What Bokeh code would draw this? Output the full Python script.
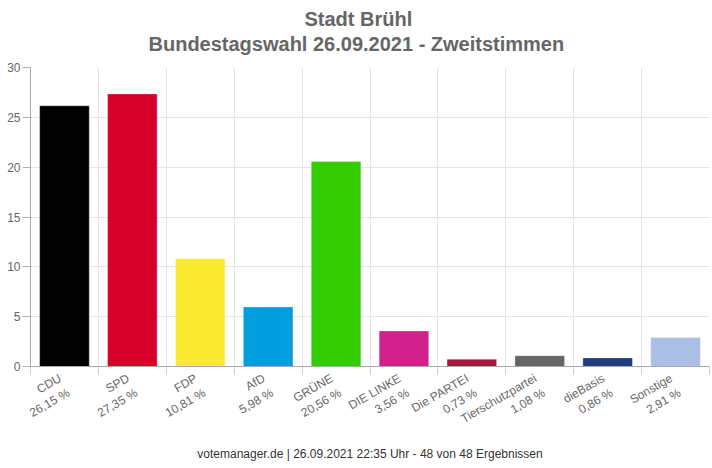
import math
import numpy as np
from bokeh.plotting import figure
from bokeh.models import ColumnDataSource, Range1d, FixedTicker, Title
from bokeh.embed import file_html
from bokeh.resources import INLINE

# ---- data ----
parties = ["CDU", "SPD", "FDP", "AfD", "GRÜNE", "DIE LINKE", "Die PARTEI",
           "Tierschutzpartei", "dieBasis", "Sonstige"]
values = [26.15, 27.35, 10.81, 5.98, 20.56, 3.56, 0.73, 1.08, 0.86, 2.91]
colors = ["#000000", "#d7002b", "#fbeb30", "#009ee0", "#33cc00", "#d0228a",
          "#9e1a3a", "#666666", "#223d7a", "#abbee6"]
y_ticks = [0, 5, 10, 15, 20, 25, 30]
title_line1 = "Stadt Brühl"
title_line2 = "Bundestagswahl 26.09.2021  - Zweitstimmen"
footer = "votemanager.de | 26.09.2021 22:35 Uhr - 48 von 48 Ergebnissen"

n = len(parties)
pos = np.arange(n) + 0.5
labels = [f"{p}\n{v:.2f}".replace(".", ",") + " %" for p, v in zip(parties, values)]

src = ColumnDataSource(dict(x=pos, top=values, color=colors))

FONT = "Liberation Sans"
W, H = 712, 468
p = figure(width=W, height=H, output_backend="svg", toolbar_location=None,
           x_range=Range1d(0, n), y_range=Range1d(0, 30),
           min_border_left=30, min_border_right=3, min_border_top=67,
           min_border_bottom=102)
p.outline_line_color = None
p.background_fill_color = "white"
p.border_fill_color = "white"

p.vbar(x="x", top="top", width=0.73, source=src, fill_color="color",
       line_color="white", line_alpha=0.3, line_width=1)

# x axis: labels at centres, tick marks at category boundaries
p.xaxis.ticker = FixedTicker(ticks=list(pos), minor_ticks=list(range(n + 1)))
p.xaxis.major_label_overrides = {float(x): lab for x, lab in zip(pos, labels)}
p.xaxis.major_label_orientation = math.radians(30)
p.xaxis.major_label_text_font = FONT
p.xaxis.major_label_text_font_size = "12px"
p.xaxis.major_label_text_color = "#666666"
p.xaxis.major_label_standoff = 10
p.xaxis.axis_line_color = "#a8a8a8"
p.xaxis.major_tick_line_color = None
p.xaxis.minor_tick_out = 8
p.xaxis.minor_tick_in = 0
p.xaxis.minor_tick_line_color = "#d0d0d0"
p.xaxis.axis_label = footer
p.xaxis.axis_label_text_font = FONT
p.xaxis.axis_label_text_font_size = "12px"
p.xaxis.axis_label_text_font_style = "normal"
p.xaxis.axis_label_text_color = "#333333"
p.xaxis.axis_label_standoff = -10

p.yaxis.ticker = FixedTicker(ticks=y_ticks)
p.yaxis.axis_line_color = "#a8a8a8"
p.yaxis.major_tick_out = 8
p.yaxis.major_tick_in = 0
p.yaxis.major_tick_line_color = "#b0b0b0"
p.yaxis.minor_tick_line_color = None
p.yaxis.major_label_standoff = 2
p.yaxis.major_label_text_font = FONT
p.yaxis.major_label_text_font_size = "12px"
p.yaxis.major_label_text_color = "#666666"

p.xgrid.ticker = FixedTicker(ticks=list(range(n + 1)))
p.xgrid.grid_line_color = "#e4e4e4"
p.ygrid.ticker = FixedTicker(ticks=y_ticks)
p.ygrid.grid_line_color = "#e4e4e4"

# two title lines (first added sits closest to the plot)
for txt, off, so in [(title_line2, 118, 25), (title_line1, 274, -23)]:
    p.add_layout(Title(text=txt, align="left", offset=off, standoff=so,
                       text_font=FONT, text_font_size="20px",
                       text_font_style="bold", text_color="#666666"), "above")

open("out.html", "w").write(file_html(p, INLINE))
